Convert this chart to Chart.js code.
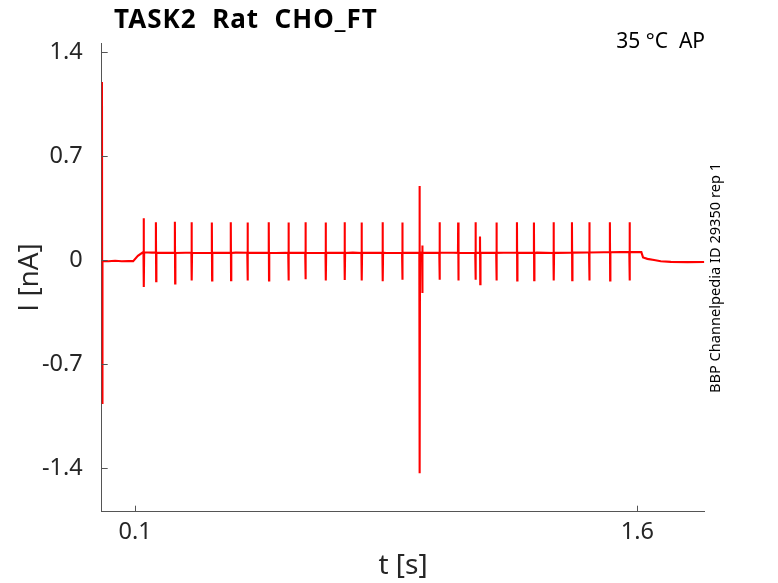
<!DOCTYPE html>
<html>
<head>
<meta charset="utf-8">
<script src="https://cdn.jsdelivr.net/npm/chart.js@4/dist/chart.umd.min.js"></script>
<style>
  html, body { margin: 0; padding: 0; background: #fff; }
  #wrap { width: 778px; height: 583px; }
</style>
</head>
<body>
<div id="wrap"><canvas id="traceChart" width="778" height="583"></canvas></div>
<script>
// baseline current (nA) at chosen times (s)
const baseT = [0.004, 0.02, 0.04, 0.06, 0.08, 0.094, 0.108, 0.123, 0.15, 0.2, 0.25, 0.3, 0.35, 0.4, 0.45, 0.52, 0.55, 0.6, 0.65, 0.7, 0.75, 0.8, 0.85, 0.9, 0.953, 1.0, 1.05, 1.1, 1.15, 1.2, 1.25, 1.3, 1.36, 1.4, 1.45, 1.5, 1.55, 1.6, 1.612, 1.617, 1.63, 1.65, 1.67, 1.7, 1.75, 1.8];
const baseI = [-0.004, -0.006, -0.003, -0.006, -0.004, -0.005, 0.03, 0.054, 0.052, 0.05, 0.051, 0.049, 0.05, 0.052, 0.05, 0.049, 0.051, 0.05, 0.049, 0.05, 0.052, 0.05, 0.049, 0.05, 0.052, 0.05, 0.051, 0.049, 0.05, 0.051, 0.05, 0.052, 0.05, 0.051, 0.053, 0.054, 0.055, 0.055, 0.055, 0.02, 0.01, 0.002, -0.006, -0.01, -0.012, -0.011];

// spikes / artifacts: time, local baseline, positive peak, negative peak
const spikeT = [0.0008, 0.1253, 0.1619, 0.2186, 0.2684, 0.3290, 0.3856, 0.4354, 0.4990, 0.5577, 0.6084, 0.6690, 0.7256, 0.7763, 0.8390, 0.8977, 0.9493, 0.9573, 1.0089, 1.0647, 1.1163, 1.1300, 1.1789, 1.2404, 1.2911, 1.3498, 1.4047, 1.4563, 1.5180, 1.5765];
const spikeBase = [-0.005, 0.054, 0.052, 0.05, 0.051, 0.05, 0.05, 0.051, 0.05, 0.05, 0.05, 0.051, 0.05, 0.05, 0.051, 0.05, 0.05, 0.05, 0.051, 0.05, 0.05, 0.05, 0.05, 0.051, 0.05, 0.05, 0.052, 0.053, 0.054, 0.055];
const spikeUp = [1.20, 0.283, 0.256, 0.26, 0.256, 0.255, 0.256, 0.254, 0.257, 0.255, 0.256, 0.255, 0.256, 0.254, 0.256, 0.255, 0.50, 0.10, 0.256, 0.255, 0.256, 0.16, 0.254, 0.256, 0.255, 0.256, 0.256, 0.257, 0.256, 0.256];
const spikeDown = [-0.96, -0.18, -0.14, -0.155, -0.135, -0.135, -0.133, -0.135, -0.135, -0.136, -0.128, -0.135, -0.133, -0.135, -0.141, -0.13, -1.433, -0.22, -0.13, -0.135, -0.13, -0.16, -0.135, -0.135, -0.133, -0.136, -0.133, -0.135, -0.135, -0.135];

const xTicks = [0.1, 1.6];
const xTickLabels = ['0.1', '1.6'];
const yTicks = [-1.4, -0.7, 0, 0.7, 1.4];
const yTickLabels = ['-1.4', '-0.7', '0', '0.7', '1.4'];

// assemble the trace
const pts = [];
baseT.forEach((t, i) => {
  const inSpike = spikeT.some(s => t > s - 0.0006 && t < s + 0.0016);
  if (!inSpike) pts.push({ x: t, y: baseI[i] });
});
spikeT.forEach((t, i) => {
  pts.push({ x: t - 0.0005, y: spikeBase[i] });
  pts.push({ x: t, y: spikeUp[i] });
  pts.push({ x: t + 0.0008, y: spikeDown[i] });
  pts.push({ x: t + 0.0015, y: spikeBase[i] });
});
pts.sort((a, b) => a.x - b.x);

Chart.defaults.font.family = 'Noto Sans';
Chart.defaults.color = '#262626';

const axisCol = '#555';

const overlay = {
  id: 'overlay',
  afterDraw(chart) {
    const ctx = chart.ctx;
    const a = chart.chartArea;
    const xs = chart.scales.x, ys = chart.scales.y;
    ctx.save();
    ctx.strokeStyle = axisCol;
    ctx.lineWidth = 1;
    ctx.beginPath();
    xTicks.forEach(v => {
      const px = Math.round(xs.getPixelForValue(v)) + 0.5;
      ctx.moveTo(px, a.bottom); ctx.lineTo(px, a.bottom - 6);
    });
    yTicks.forEach(v => {
      const py = Math.round(ys.getPixelForValue(v)) + 0.5;
      ctx.moveTo(a.left, py); ctx.lineTo(a.left + 6, py);
    });
    ctx.stroke();

    ctx.fillStyle = '#000';
    ctx.textAlign = 'left';
    ctx.textBaseline = 'alphabetic';
    ctx.font = 'bold 26px "Noto Sans"';
    ctx.letterSpacing = '1px';
    ctx.fillText('TASK2  Rat  CHO_FT', 114, 28);
    ctx.letterSpacing = '0px';

    ctx.font = '21px "Noto Sans"';
    ctx.textAlign = 'right';
    ctx.fillText('35 °C  AP', 705, 48);

    ctx.translate(716, 278);
    ctx.rotate(-Math.PI / 2);
    ctx.textAlign = 'center';
    ctx.textBaseline = 'middle';
    ctx.font = '14.6px "Noto Sans"';
    ctx.fillText('BBP Channelpedia ID 29350 rep 1', 0, 0);
    ctx.restore();
  }
};

new Chart(document.getElementById('traceChart'), {
  type: 'line',
  data: {
    datasets: [{
      data: pts,
      borderColor: 'rgb(255,0,0)',
      borderWidth: 2.1,
      pointRadius: 0,
      tension: 0,
      fill: false
    }]
  },
  options: {
    responsive: false,
    animation: false,
    events: [],
    layout: { padding: { left: 0, top: 43.3, right: 73.7, bottom: 0 } },
    plugins: { legend: { display: false }, tooltip: { enabled: false } },
    scales: {
      x: {
        type: 'linear',
        min: 0,
        max: 1.8,
        afterBuildTicks: s => { s.ticks = xTicks.map(v => ({ value: v })); },
        afterFit: s => { s.height = 71.3; },
        ticks: {
          autoSkip: false,
          maxRotation: 0,
          padding: 7,
          font: { size: 23.5 },
          color: '#262626',
          callback: v => xTickLabels[xTicks.indexOf(v)]
        },
        grid: { drawOnChartArea: false, drawTicks: false, color: axisCol },
        border: { display: true, color: axisCol, width: 1 },
        title: { display: true, text: 't [s]', font: { size: 28 }, color: '#262626', padding: { top: 0, bottom: 0 } }
      },
      y: {
        min: -1.692,
        max: 1.461,
        afterBuildTicks: s => { s.ticks = yTicks.map(v => ({ value: v })); },
        afterFit: s => { s.width = 101.7; },
        ticks: {
          autoSkip: false,
          padding: 19,
          font: { size: 23.5 },
          color: '#262626',
          callback: v => yTickLabels[yTicks.indexOf(v)]
        },
        grid: { drawOnChartArea: false, drawTicks: false, color: axisCol },
        border: { display: true, color: axisCol, width: 1 },
        title: { display: true, text: 'I [nA]', font: { family: 'Open Sans', size: 28 }, color: '#262626', padding: { top: 13, bottom: 0 } }
      }
    }
  },
  plugins: [overlay]
});
</script>
</body>
</html>
